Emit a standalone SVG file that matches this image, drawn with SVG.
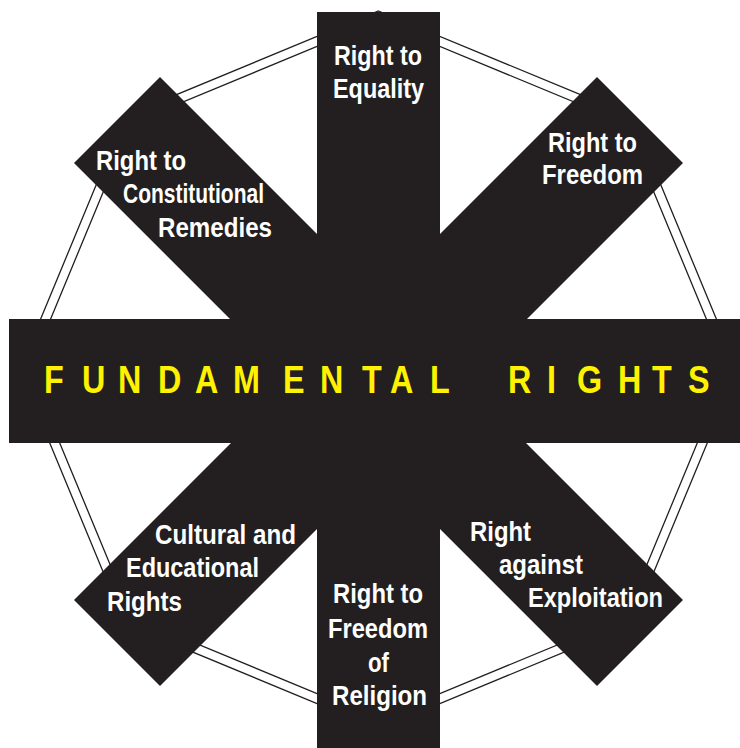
<svg xmlns="http://www.w3.org/2000/svg" width="740" height="748" viewBox="0 0 740 748">
  <style>
    .ring { fill: none; stroke: #231f20; stroke-width: 1.3; }
    .arm { fill: #231f20; }
    .lbl { font-family: "Liberation Sans", Arial, sans-serif; font-weight: bold; font-size: 28px; fill: #ffffff; }
    .mid { text-anchor: middle; }
    .title { font-family: "Liberation Sans", Arial, sans-serif; font-weight: bold; font-size: 38px; fill: #fff200; }
  </style>
  <rect width="740" height="748" fill="#ffffff"/>
  <g id="connectors">
    <polygon class="ring" points="378.5,11 632.3,116.1 737.5,370 632.3,623.9 378.5,729 124.7,623.9 19.5,370 124.7,116.1"/>
    <polygon class="ring" points="378.5,21 625.3,123.2 727.5,370 625.3,616.8 378.5,719 131.7,616.8 29.5,370 131.7,123.2"/>
  </g>
  <g id="star">
    <rect class="arm" x="317" y="12" width="123" height="736"/>
    <rect class="arm" x="9" y="319" width="731" height="124"/>
    <polygon class="arm" points="160,77 74,163 597,686 683,600"/>
    <polygon class="arm" points="597,77 683,163 160,686 74,600"/>
  </g>
  <g id="node-center">
    <text class="title" transform="scale(0.85 1)" x="51.8 96.5 138.8 185.9 229.4 274.1 332.9 376.5 425.9 458.8 505.9 552.9 597.6 643.5 678.8 727.1 767.1 809.4" y="393">FUNDAMENTAL RIGHTS</text>
  </g>
  <g id="node-equality">
    <text class="lbl" x="334" y="65" textLength="88" lengthAdjust="spacingAndGlyphs">Right to</text>
    <text class="lbl" x="333" y="98" textLength="91" lengthAdjust="spacingAndGlyphs">Equality</text>
  </g>
  <g id="node-freedom">
    <text class="lbl" x="548" y="152" textLength="89" lengthAdjust="spacingAndGlyphs">Right to</text>
    <text class="lbl" x="542" y="184" textLength="101" lengthAdjust="spacingAndGlyphs">Freedom</text>
  </g>
  <g id="node-remedies">
    <text class="lbl" x="96" y="170" textLength="90" lengthAdjust="spacingAndGlyphs">Right to</text>
    <text class="lbl" x="123" y="203" textLength="141" lengthAdjust="spacingAndGlyphs">Constitutional</text>
    <text class="lbl" x="158" y="237" textLength="114" lengthAdjust="spacingAndGlyphs">Remedies</text>
  </g>
  <g id="node-exploitation">
    <text class="lbl" x="470" y="541" textLength="61" lengthAdjust="spacingAndGlyphs">Right</text>
    <text class="lbl" x="499" y="574" textLength="84" lengthAdjust="spacingAndGlyphs">against</text>
    <text class="lbl" x="528" y="607" textLength="135" lengthAdjust="spacingAndGlyphs">Exploitation</text>
  </g>
  <g id="node-religion">
    <text class="lbl" x="333" y="603" textLength="90" lengthAdjust="spacingAndGlyphs">Right to</text>
    <text class="lbl" x="328" y="638" textLength="100" lengthAdjust="spacingAndGlyphs">Freedom</text>
    <text class="lbl" x="368" y="672" textLength="21" lengthAdjust="spacingAndGlyphs">of</text>
    <text class="lbl" x="332" y="705" textLength="95" lengthAdjust="spacingAndGlyphs">Religion</text>
  </g>
  <g id="node-cultural">
    <text class="lbl" x="155" y="544" textLength="141" lengthAdjust="spacingAndGlyphs">Cultural and</text>
    <text class="lbl" x="126" y="577" textLength="133" lengthAdjust="spacingAndGlyphs">Educational</text>
    <text class="lbl" x="107" y="611" textLength="75" lengthAdjust="spacingAndGlyphs">Rights</text>
  </g>
</svg>
